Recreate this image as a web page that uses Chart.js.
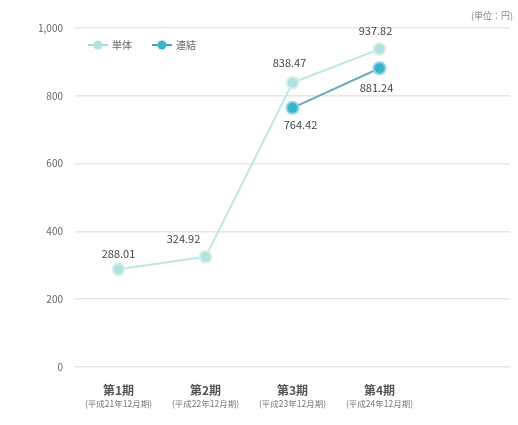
<!DOCTYPE html>
<html lang="ja">
<head>
<meta charset="utf-8">
<script src="https://cdn.jsdelivr.net/npm/chart.js@4"></script>
<style>
  html, body { margin: 0; padding: 0; background: #fff; }
  #wrap { position: relative; width: 518px; height: 425px; }
</style>
</head>
<body>
<div id="wrap"><canvas id="eps-chart" width="518" height="425"></canvas></div>
<script>
// 1株当たり当期純利益の推移
const periods = ["第1期", "第2期", "第3期", "第4期", ""];
const periodNotes = ["(平成21年12月期)", "(平成22年12月期)", "(平成23年12月期)", "(平成24年12月期)", ""];
const tanTai = [288.01, 324.92, 838.47, 937.82, null];
const renKetsu = [null, null, 764.42, 881.24, null];
const yTicks = [0, 200, 400, 600, 800, 1000];

const FONT = "'Noto Sans CJK JP', 'Noto Sans', sans-serif";
const LIGHT = "#b3e2de";
const DARK = "#3bb3cb";

// value label offsets, per dataset / point
const labelOffsets = [
    [[0, -16], [-22, -18], [-3, -20], [-4, -18]],
    [null, null, [8, 17], [-3, 20]],
];

const extras = {
    id: "extras",
    afterDatasetsDraw(chart) {
        const ctx = chart.ctx;
        const x = chart.scales.x;
        ctx.save();

        // value labels
        ctx.font = "11px " + FONT;
        ctx.fillStyle = "#444";
        ctx.textAlign = "center";
        ctx.textBaseline = "middle";
        chart.data.datasets.forEach((ds, i) => {
            const meta = chart.getDatasetMeta(i);
            ds.data.forEach((v, j) => {
                if (v == null) return;
                const [dx, dy] = labelOffsets[i][j];
                const pt = meta.data[j];
                ctx.fillText(v.toFixed(2), pt.x + dx, pt.y + dy);
            });
        });

        // sub labels under the periods
        ctx.font = "8.5px " + FONT;
        ctx.fillStyle = "#777";
        periodNotes.forEach((t, j) => {
            if (t) ctx.fillText(t, x.getPixelForValue(j), 404);
        });

        // unit
        ctx.font = "9px " + FONT;
        ctx.fillStyle = "#888";
        ctx.textAlign = "right";
        ctx.fillText("(単位：円)", 513, 16);

        // legend
        const items = [["単体", LIGHT, "#a5d8d2"], ["連結", DARK, "#3aa9c0"]];
        let lx = 88;
        ctx.textAlign = "left";
        ctx.font = "10px " + FONT;
        items.forEach(([name, fill, line]) => {
            ctx.strokeStyle = line;
            ctx.lineWidth = 2;
            ctx.beginPath();
            ctx.moveTo(lx, 45);
            ctx.lineTo(lx + 20, 45);
            ctx.stroke();
            ctx.fillStyle = fill;
            ctx.beginPath();
            ctx.arc(lx + 10, 45, 4.5, 0, Math.PI * 2);
            ctx.fill();
            ctx.fillStyle = "#666";
            ctx.fillText(name, lx + 24, 45);
            lx += 64;
        });
        ctx.restore();
    },
};

(function () {
    "use strict"

    const ctx = document.getElementById("eps-chart").getContext("2d");
    new Chart(ctx, {
        type: "line",
        data: {
            labels: periods,
            datasets: [
                {
                    label: "単体",
                    data: tanTai,
                    borderColor: "#bde7e5",
                    borderWidth: 2,
                    pointRadius: 6,
                    pointBackgroundColor: LIGHT,
                    pointBorderColor: "#d6f1ee",
                    pointBorderWidth: 2,
                    tension: 0,
                },
                {
                    label: "連結",
                    data: renKetsu,
                    borderColor: "#6fa9bb",
                    borderWidth: 2,
                    pointRadius: 6,
                    pointBackgroundColor: DARK,
                    pointBorderColor: "#8fd5e3",
                    pointBorderWidth: 2,
                    tension: 0,
                },
            ],
        },
        options: {
            responsive: false,
            animation: false,
            layout: {
                padding: {top: 28, right: 5, left: 0, bottom: 0},
            },
            plugins: {
                legend: {display: false},
                tooltip: {enabled: false},
            },
            scales: {
                x: {
                    offset: true,
                    grid: {display: false, drawTicks: false},
                    border: {display: false},
                    ticks: {
                        color: "#555",
                        padding: 16,
                        font: {family: FONT, size: 12, weight: "bold"},
                    },
                    afterFit: (s) => { s.height = 58; },
                },
                y: {
                    min: 0,
                    max: 1000,
                    afterBuildTicks: (s) => { s.ticks = yTicks.map(v => ({value: v})); },
                    grid: {color: "#e6e6e6", drawTicks: false, lineWidth: 1.5},
                    border: {display: false},
                    ticks: {
                        color: "#666",
                        padding: 12,
                        font: {family: FONT, size: 10},
                        callback: (v) => v.toLocaleString("en-US"),
                    },
                    afterFit: (s) => { s.width = 75; },
                },
            },
        },
        plugins: [extras],
    });
})()
</script>
</body>
</html>
